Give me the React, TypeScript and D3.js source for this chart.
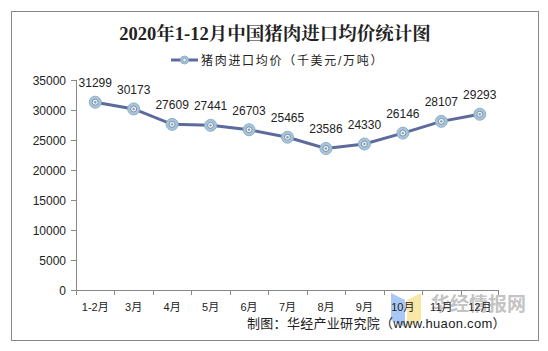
import React from "react";
import * as d3 from "d3";

const months = ["1-2月", "3月", "4月", "5月", "6月", "7月", "8月", "9月", "10月", "11月", "12月"];
const prices = [31299, 30173, 27609, 27441, 26703, 25465, 23586, 24330, 26146, 28107, 29293];
const yTicks = [0, 5000, 10000, 15000, 20000, 25000, 30000, 35000];

const W = 548;
const H = 351;
const margin = { top: 80, right: 49, bottom: 61, left: 76 };

export default function App() {
  const innerW = W - margin.left - margin.right;
  const innerH = H - margin.top - margin.bottom;

  const x = d3.scaleBand().domain(months).range([0, innerW]);
  const y = d3.scaleLinear().domain([0, 35000]).range([innerH, 0]);

  const line = d3
    .line<number>()
    .x((d, i) => x(months[i])! + x.bandwidth() / 2)
    .y((d) => y(d));

  const font = "Arial, 'Liberation Sans', 'Noto Sans CJK SC', sans-serif";

  return (
    <svg width={W} height={H} style={{ position: "absolute", left: 0, top: 0 }}>
      <rect x={0} y={0} width={W} height={H} fill="#fff" />
      <rect x={11.5} y={11.5} width={527} height={329} fill="none" stroke="#888" strokeWidth={1} />

      {/* title */}
      <text
        x={275}
        y={40}
        textAnchor="middle"
        fontSize={18.5}
        fontWeight="bold"
        fill="#222"
        fontFamily="'Liberation Serif', 'Noto Serif CJK SC', 'Noto Sans CJK SC', serif"
      >
        2020年1-12月中国猪肉进口均价统计图
      </text>

      {/* legend */}
      <g transform="translate(171,60)">
        <line x1={0} x2={27} y1={0} y2={0} stroke="#5d6b9c" strokeWidth={3} />
        <circle cx={13.5} cy={0} r={4} fill="#a8c6db" stroke="#8bb0c9" />
        <circle cx={13.5} cy={0} r={1.8} fill="#eef4f8" stroke="#6b7f98" strokeWidth={0.6} />
        <text x={30} y={4.5} fontSize={12} letterSpacing={1.7} fill="#222" fontFamily={font}>
          猪肉进口均价（千美元/万吨）
        </text>
      </g>

      {/* watermark (behind the chart texts) */}
      <g>
        <path d="M391,293 L405,300 L405,327 L391,320 Z" fill="#a9c8f5" />
        <path d="M407,300 L421,293 L421,320 L407,327 Z" fill="#f8e7a6" />
        <text x={431} y={311} fontSize={19} fontWeight="bold" fill="#c4c4c4" fontFamily={font}>
          华经情报网
        </text>
      </g>

      <g transform={`translate(${margin.left},${margin.top})`}>
        {/* y axis */}
        <line x1={0.5} x2={0.5} y1={0} y2={innerH} stroke="#888" />
        {yTicks.map((t) => (
          <g key={t} transform={`translate(0,${Math.round(y(t)) + 0.5})`}>
            <line x1={-5} x2={0} stroke="#888" />
            <text x={-10} y={4.5} textAnchor="end" fontSize={12} fill="#222" fontFamily={font}>
              {t}
            </text>
          </g>
        ))}

        {/* x axis */}
        <line x1={0} x2={innerW} y1={innerH + 0.5} y2={innerH + 0.5} stroke="#888" />
        {months.map((m, i) => (
          <g key={m}>
            <line
              x1={Math.round(x(m)!) + 0.5}
              x2={Math.round(x(m)!) + 0.5}
              y1={innerH}
              y2={innerH + 5}
              stroke="#888"
            />
            <text
              x={x(m)! + x.bandwidth() / 2}
              y={innerH + 21}
              textAnchor="middle"
              fontSize={11}
              fill="#222"
              fontFamily={font}
            >
              {m}
            </text>
          </g>
        ))}
        <line x1={innerW - 0.5} x2={innerW - 0.5} y1={innerH} y2={innerH + 5} stroke="#888" />

        {/* line */}
        <path d={line(prices) || ""} fill="none" stroke="#5d6b9c" strokeWidth={3} />

        {prices.map((v, i) => {
          const cx = x(months[i])! + x.bandwidth() / 2;
          const cy = y(v);
          return (
            <g key={i}>
              <circle cx={cx} cy={cy} r={6} fill="#a8c6db" stroke="#8bb0c9" strokeWidth={1} />
              <circle cx={cx} cy={cy} r={3} fill="#eef4f8" stroke="#6b7f98" strokeWidth={0.8} />
              <circle cx={cx} cy={cy} r={1.2} fill="#8b9bb0" />
              <text
                x={cx}
                y={cy - 15}
                textAnchor="middle"
                fontSize={12}
                fill="#222"
                fontFamily={font}
              >
                {v}
              </text>
            </g>
          );
        })}
      </g>

      {/* source */}
      <text x={247} y={328} fontSize={13} letterSpacing={0.3} fill="#222" fontFamily={font}>
        制图：华经产业研究院（www.huaon.com）
      </text>
    </svg>
  );
}
